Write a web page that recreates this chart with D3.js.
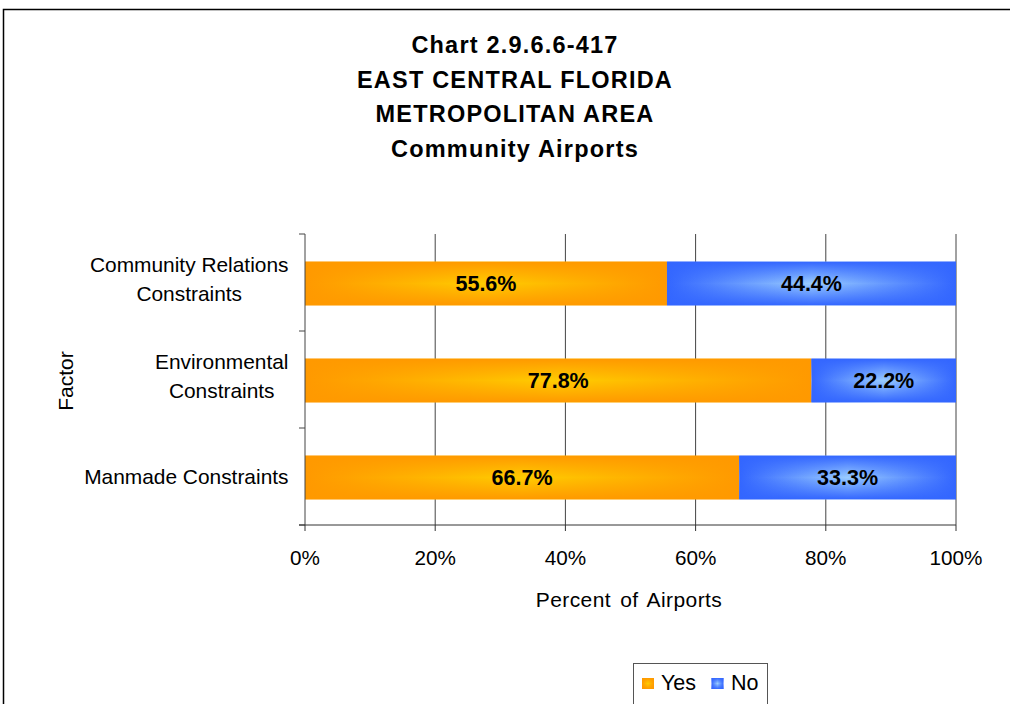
<!DOCTYPE html>
<html><head><meta charset="utf-8">
<script src="https://cdn.jsdelivr.net/npm/d3@7"></script>
<style>body{margin:0;background:#fff;} svg{display:block;font-family:"Liberation Sans",Arial,sans-serif;}</style>
</head><body>
<svg id="c" width="1010" height="704"></svg>
<script>
const titleLines = ["Chart 2.9.6.6-417", "EAST CENTRAL FLORIDA", "METROPOLITAN AREA", "Community Airports"];
const categories = ["Community Relations|Constraints", "Environmental|Constraints", "Manmade Constraints"];
const yesValues = [55.6, 77.8, 66.7];
const noValues = [44.4, 22.2, 33.3];
const seriesNames = ["Yes", "No"];
const xTicks = [0, 20, 40, 60, 80, 100];

const svg = d3.select("#c");
const defs = svg.append("defs");
function grad(id, edge, center) {
  const h = defs.append("linearGradient").attr("id", id + "H").attr("x1", "0").attr("x2", "1").attr("y1", "0").attr("y2", "0");
  h.append("stop").attr("offset", "0").attr("stop-color", edge);
  h.append("stop").attr("offset", "0.5").attr("stop-color", center);
  h.append("stop").attr("offset", "1").attr("stop-color", edge);
  const v = defs.append("linearGradient").attr("id", id + "V").attr("x1", "0").attr("x2", "0").attr("y1", "0").attr("y2", "1");
  v.append("stop").attr("offset", "0").attr("stop-color", edge).attr("stop-opacity", 1);
  v.append("stop").attr("offset", "0.5").attr("stop-color", edge).attr("stop-opacity", 0);
  v.append("stop").attr("offset", "1").attr("stop-color", edge).attr("stop-opacity", 1);
}
grad("yes", "#FF9900", "#FFCC00");
grad("no", "#3366FF", "#99CCFF");
const colorIds = {Yes: "yes", No: "no"};

// frame
svg.append("rect").attr("x", 3.5).attr("y", 9.5).attr("width", 1020).attr("height", 720)
  .attr("fill", "none").attr("stroke", "#000").attr("stroke-width", 1.5);

// title
svg.append("g").selectAll("text").data(titleLines).join("text")
  .attr("x", 515).attr("y", (d, i) => 53 + i * 34.5)
  .attr("text-anchor", "middle").attr("font-weight", "bold").attr("font-size", 23.5)
  .attr("letter-spacing", 1.2).attr("fill", "#000").text(d => d);

const plotTop = 234, plotBottom = 525;
const x = d3.scaleLinear().domain([0, 100]).range([305, 956]);
const y = d3.scaleBand().domain(categories).range([plotTop, plotBottom]).paddingInner(0.55).paddingOuter(0.275);

// gridlines
svg.append("g").selectAll("line").data(xTicks.slice(1)).join("line")
  .attr("x1", d => x(d)).attr("x2", d => x(d)).attr("y1", plotTop).attr("y2", plotBottom)
  .attr("stroke", "#444").attr("stroke-width", 1);

// bars
const stacked = categories.map((c, i) => [
  {cat: c, s: "Yes", x0: 0, x1: yesValues[i], v: yesValues[i]},
  {cat: c, s: "No", x0: yesValues[i], x1: yesValues[i] + noValues[i], v: noValues[i]}
]).flat();
const bars = svg.append("g").selectAll("g").data(stacked).join("g");
bars.append("rect").attr("x", d => x(d.x0)).attr("width", d => x(d.x1) - x(d.x0))
  .attr("y", d => y(d.cat) + 1).attr("height", y.bandwidth())
  .attr("fill", d => `url(#${colorIds[d.s]}H)`);
bars.append("rect").attr("x", d => x(d.x0)).attr("width", d => x(d.x1) - x(d.x0))
  .attr("y", d => y(d.cat) + 1).attr("height", y.bandwidth())
  .attr("fill", d => `url(#${colorIds[d.s]}V)`);
bars.append("text").attr("x", d => (x(d.x0) + x(d.x1)) / 2).attr("y", d => y(d.cat) + y.bandwidth() / 2 + 8.5)
  .attr("text-anchor", "middle").attr("font-weight", "bold").attr("font-size", 21.5).attr("fill", "#000")
  .text(d => d.v.toFixed(1) + "%");

// y axis
const yAxisG = svg.append("g");
yAxisG.append("line").attr("x1", 305).attr("x2", 305).attr("y1", plotTop).attr("y2", plotBottom).attr("stroke", "#444");
const yTickPos = [plotTop, ...categories.slice(1).map(c => y(c) - y.step() * y.paddingInner() / 2), plotBottom];
yAxisG.selectAll("line.t").data(yTickPos).join("line").attr("class", "t")
  .attr("x1", 299).attr("x2", 305).attr("y1", d => d).attr("y2", d => d).attr("stroke", "#444");
const catLabels = yAxisG.selectAll("text").data(categories).join("text")
  .attr("text-anchor", "middle").attr("font-size", 20.9).attr("fill", "#000");
catLabels.each(function(d) {
  const parts = d.split("|");
  const cy = y(d) + y.bandwidth() / 2 - (parts.length > 1 ? 3.5 : 0);
  const t = d3.select(this);
  const spans = parts.map((p, i) => t.append("tspan")
      .attr("y", cy + 7.5 + (i - (parts.length - 1) / 2) * 29).text(p));
  const maxW = d3.max(spans, s => s.node().getComputedTextLength());
  spans.forEach(s => s.attr("x", 288.5 - maxW / 2));
});

// x axis
const xAxisG = svg.append("g");
xAxisG.append("line").attr("x1", 299).attr("x2", 956).attr("y1", plotBottom).attr("y2", plotBottom).attr("stroke", "#333");
xAxisG.selectAll("line.t").data(xTicks).join("line").attr("class", "t")
  .attr("x1", d => x(d)).attr("x2", d => x(d)).attr("y1", plotBottom).attr("y2", plotBottom + 6).attr("stroke", "#333");
xAxisG.selectAll("text").data(xTicks).join("text")
  .attr("x", d => x(d)).attr("y", 565).attr("text-anchor", "middle").attr("font-size", 20.7)
  .attr("fill", "#000").text(d => d + "%");

// axis titles
svg.append("text").attr("x", 629).attr("y", 607).attr("text-anchor", "middle").attr("font-size", 21)
  .attr("letter-spacing", 0.4).attr("word-spacing", 3).text("Percent of Airports");
svg.append("text").attr("transform", "translate(73,381) rotate(-90)").attr("text-anchor", "middle")
  .attr("font-size", 21).text("Factor");

// legend
const lg = svg.append("g");
lg.append("rect").attr("x", 633.5).attr("y", 663.5).attr("width", 134).attr("height", 60)
  .attr("fill", "#fff").attr("stroke", "#555");
const items = [{s: "Yes", x: 642, tx: 661}, {s: "No", x: 711.5, tx: 731}];
items.forEach(it => {
  lg.append("rect").attr("x", it.x).attr("y", 678).attr("width", 12).attr("height", 11)
    .attr("fill", `url(#${colorIds[it.s]}H)`);
  lg.append("rect").attr("x", it.x).attr("y", 678).attr("width", 12).attr("height", 11)
    .attr("fill", `url(#${colorIds[it.s]}V)`);
  lg.append("text").attr("x", it.tx).attr("y", 690).attr("font-size", 21.5).text(it.s);
});
</script>
</body></html>
